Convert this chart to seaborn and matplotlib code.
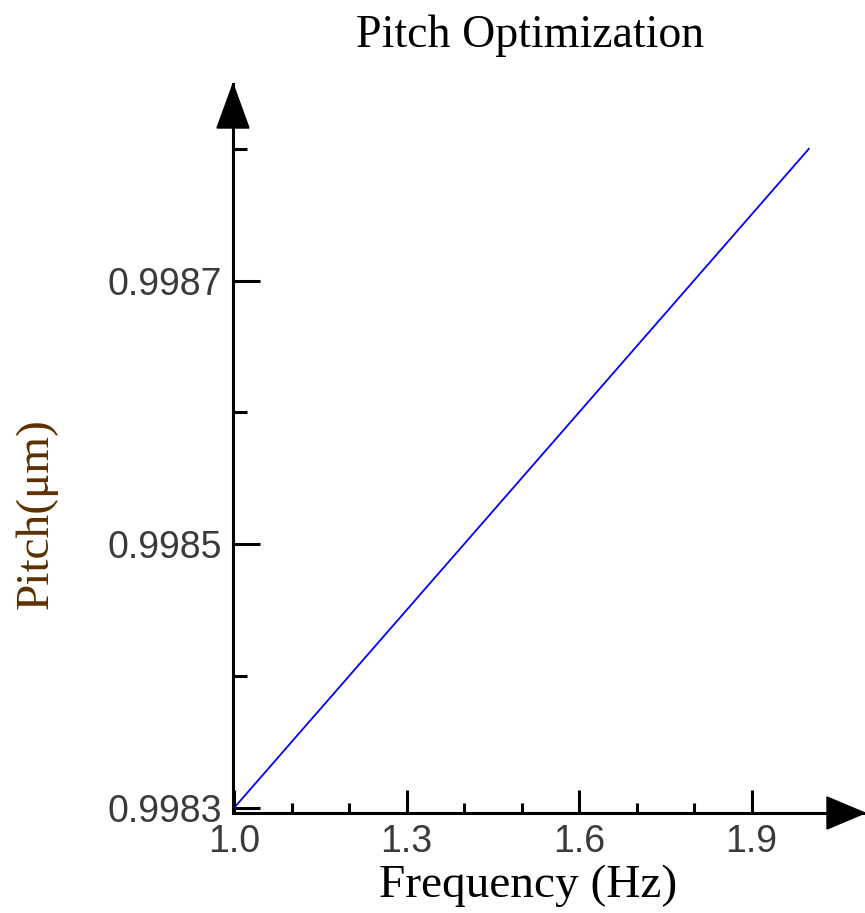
import matplotlib
matplotlib.use('Agg')
import matplotlib.pyplot as plt
import numpy as np
import pandas as pd
import seaborn as sns
from matplotlib.ticker import FixedLocator

# Data
frequency = [1.0, 2.0]
pitch = [0.9983, 0.9988]
x_major = [1.0, 1.3, 1.6, 1.9]
x_minor = [1.1, 1.2, 1.4, 1.5, 1.7, 1.8]
y_major = [0.9983, 0.9985, 0.9987]
y_minor = [0.9984, 0.9986, 0.9988]
y_labels = ['0.9983', '0.9985', '0.9987']
x_labels = ['1.0', '1.3', '1.6', '1.9']

df = pd.DataFrame({'Frequency': frequency, 'Pitch': pitch})

sns.set_style('white')
plt.rcParams['font.family'] = ['Liberation Sans', 'DejaVu Sans']

W, H = 865, 913
fig = plt.figure(figsize=(W / 100, H / 100), dpi=100)

# axes box in pixels: left 233, right 865, top 84, bottom 813
left, right, top, bottom = 233, 865, 84, 813
ax = fig.add_axes([left / W, 1 - bottom / H, (right - left) / W, (bottom - top) / H])
ax.patch.set_alpha(0)

sns.lineplot(data=df, x='Frequency', y='Pitch', ax=ax, color='#0000ff', linewidth=1.3)

ax.set_xlim(1.0 - 1 / 575, 1.0 + (right - 234) / 575)
ax.set_ylim(0.9983 - 5 / 131.5 * 1e-4, 0.9988 + (148.5 - top) / 131.5 * 1e-4)

ax.xaxis.set_major_locator(FixedLocator(x_major))
ax.xaxis.set_minor_locator(FixedLocator(x_minor))
ax.yaxis.set_major_locator(FixedLocator(y_major))
ax.yaxis.set_minor_locator(FixedLocator(y_minor))
ax.set_xticklabels(x_labels)
ax.set_yticklabels(y_labels)

for s in ['top', 'right']:
    ax.spines[s].set_visible(False)
for s in ['left', 'bottom']:
    ax.spines[s].set_linewidth(2.2)
    ax.spines[s].set_color('black')

ax.tick_params(axis='both', which='both', direction='in', width=2.2, color='black',
               labelsize=27, labelcolor='#3a3a3a', bottom=True, left=True)
ax.tick_params(axis='y', which='major', length=19.5, pad=8)
ax.tick_params(axis='y', which='minor', length=10)
ax.tick_params(axis='x', which='major', length=16.5, pad=8)
ax.tick_params(axis='x', which='minor', length=7.2)
ax.set_xlabel('')
ax.set_ylabel('')

# arrow heads at the axis ends
aw = right - left
ah = bottom - top
ax.fill([-16 / aw, 16 / aw, 0], [(bottom - 128) / ah, (bottom - 128) / ah, 1.0],
        color='black', transform=ax.transAxes, clip_on=False, zorder=5)
ax.fill([(827 - left) / aw, (827 - left) / aw, 1.0], [-16 / ah, 16 / ah, 0],
        color='black', transform=ax.transAxes, clip_on=False, zorder=5)

serif = ['Liberation Serif', 'DejaVu Serif']
fig.text(530 / W, 1 - 47 / H, 'Pitch Optimization', ha='center', va='baseline',
         fontsize=33, family=serif, color='black')
fig.text(528 / W, 1 - 897 / H, 'Frequency (Hz)', ha='center', va='baseline',
         fontsize=34, family=serif, color='black')
fig.text(48 / W, 1 - 514 / H, 'Pitch(\u03bcm)', ha='center', va='baseline',
         rotation=90, rotation_mode='anchor', fontsize=34, family=serif,
         color='#5c3000')

fig.savefig('out.png', dpi=100)
